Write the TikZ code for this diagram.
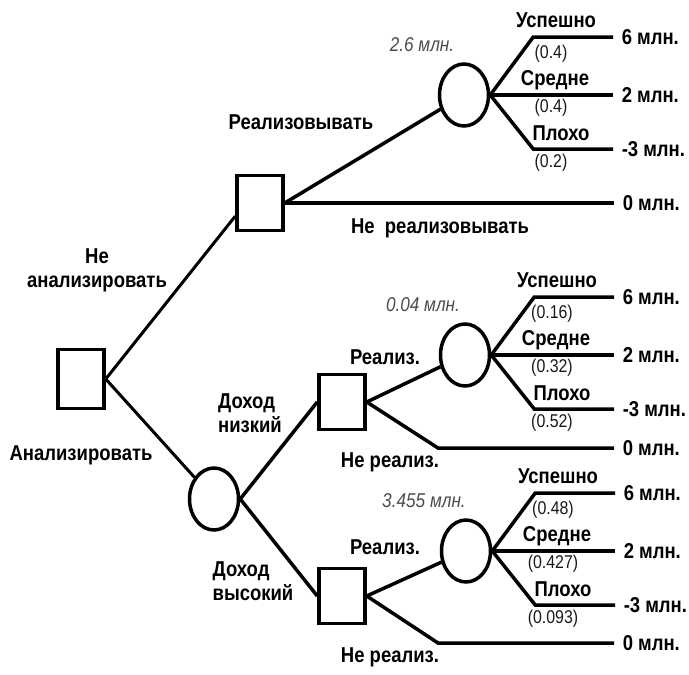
\documentclass[tikz,border=0pt]{standalone}
\usepackage{fontspec}
\setmainfont{Liberation Sans}[FakeStretch=0.86]
\usetikzlibrary{shapes.geometric,calc}
\definecolor{valgray}{gray}{0.3}
\definecolor{probgray}{gray}{0.1}

\begin{document}
\begin{tikzpicture}[x=1pt,y=-1pt,line width=3.5pt,
    decision/.style={draw,rectangle,minimum width=46pt,minimum height=55pt,inner sep=0pt},
    chance/.style={draw,ellipse,minimum width=49pt,minimum height=62pt,inner sep=0pt},
    lbl/.style={font=\fontsize{21.5}{24}\selectfont\bfseries,inner sep=1pt},
    outcome/.style={lbl,anchor=west,inner xsep=7pt},
    prob/.style={font=\fontsize{18.5}{20}\selectfont,text=probgray,inner sep=1pt},
    val/.style={font=\fontsize{20}{22}\selectfont\itshape,text=valgray,inner sep=1pt}]
    \useasboundingbox (0,0) rectangle (689,675);
    % decision and chance nodes
    \node[decision,minimum height=59pt] (root) at (81,379) {};
    \node[decision] (A) at (260,203) {};
    \node[decision] (B) at (342,402) {};
    \node[decision] (D) at (342,596) {};
    \node[chance] (C0) at (214,499) {};
    \node[chance] (C1) at (464,95) {};
    \node[chance] (C2) at (465,355) {};
    \node[chance] (C3) at (466,551) {};
    % first decision
    \draw[line width=3pt] (root.east) -- (A.208);
    \draw[line width=3pt] (root.east) -- (C0);
    \node[lbl,align=center] (noan) at (97,270) {Не\\анализировать};
    \node[lbl] (an) at (81,455) {Анализировать};
    % not analysed
    \node[outcome] (A-o) at (614,203) {0 млн.};
    \draw (A.east) -- (C1);
    \draw (A.east) -- (A-o.west);
    \node[lbl] (Ar) at (301,122) {Реализовывать};
    \node[lbl] (An) at (440,228) {Не~~реализовывать};
    % analysed
    \draw (C0.east) -- (B.west);
    \draw (C0.east) -- (D.west);
    \node[lbl,align=left] (low) at (250,413) {Доход\\низкий};
    \node[lbl,align=left] (high) at (253,581) {Доход\\высокий};
    \node[outcome] (B-o) at (614,448) {0 млн.};
    \node[outcome] (D-o) at (614,643) {0 млн.};
    \draw (B.east) -- (C2);
    \draw (B.east) -- (438,448) -- (B-o.west);
    \draw (D.east) -- (C3);
    \draw (D.east) -- (438,643) -- (D-o.west);
    \node[lbl] (Br) at (385,357) {Реализ.};
    \node[lbl] (Bn) at (390,462) {Не реализ.};
    \node[lbl] (Dr) at (385,547) {Реализ.};
    \node[lbl] (Dn) at (390,657) {Не реализ.};
    % chance branches
    \foreach \c/\v/\pa/\pb/\pc in {C1/2.6/0.4/0.4/0.2, C2/0.04/0.16/0.32/0.52, C3/3.455/0.48/0.427/0.093} {
        \node[outcome] (\c-o1) at ($(\c)+(149,-58)$) {6 млн.};
        \node[outcome] (\c-o2) at ($(\c)+(149,0)$) {2 млн.};
        \node[outcome] (\c-o3) at ($(\c)+(149,54)$) {-3 млн.};
        \draw (\c.east) -- ++(43,-58) -- (\c-o1.west);
        \draw (\c.east) -- (\c-o2.west);
        \draw (\c.east) -- ++(43,54) -- (\c-o3.west);
        \node[lbl] (\c-s) at ($(\c)+(92,-75)$) {Успешно};
        \node[prob] (\c-pa) at ($(\c)+(87,-41)$) {(\pa)};
        \node[lbl] (\c-m) at ($(\c)+(91,-15)$) {Средне};
        \node[prob] (\c-pb) at ($(\c)+(87,13)$) {(\pb)};
        \node[lbl] (\c-b) at ($(\c)+(97,38)$) {Плохо};
        \node[prob] (\c-pc) at ($(\c)+(87,68)$) {(\pc)};
        \node[val] (\c-v) at ($(\c)+(-42,-50)$) {\v{} млн.};
    }
\end{tikzpicture}
\end{document}
